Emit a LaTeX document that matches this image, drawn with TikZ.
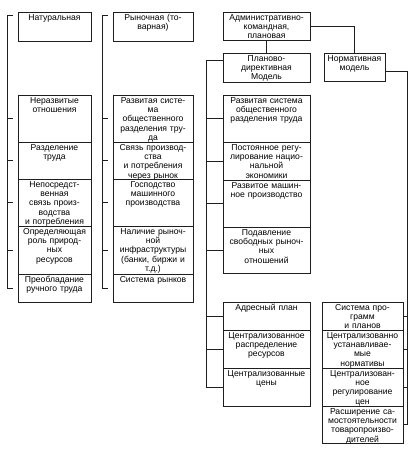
\documentclass[tikz,border=0pt]{standalone}
\usepackage{fontspec}
\setmainfont{Liberation Sans}
\usetikzlibrary{positioning}
\definecolor{inkline}{HTML}{1E1E1E}

\begin{document}
\begin{tikzpicture}[
    x=1pt, y=-1pt,
    cell/.style={rectangle, draw=inkline, line width=0.6pt, anchor=north west, outer sep=0pt, inner xsep=1pt, inner ysep=1.5pt, align=center, text height=6.5pt, font=\fontsize{8.6}{9.4}\selectfont},
    natcol/.style={cell, text width=71pt},
    ryncol/.style={cell, text width=78pt},
    plancol/.style={cell, text width=85pt},
    normcol/.style={cell, text width=79pt},
    normhead/.style={cell, text width=59pt},
    brk/.style={draw=inkline, line width=0.8pt},
    link/.style={draw=inkline, line width=0.8pt}
]
    \useasboundingbox (0,0) rectangle (415,455);

    % --- COLUMN 1: NATURAL ECONOMY ---
    \node[natcol, text depth=19.5pt] (nat) at (18,12) {Натуральная};
    \node[natcol, text depth=37.5pt] (c1a) at (18,95) {Неразвитые\\отношения};
    \node[natcol, text depth=27.5pt, below=0pt of c1a] (c1b) {Разделение\\труда};
    \node[natcol, text depth=37.5pt, below=0pt of c1b] (c1c) {Непосредст-\\венная\\связь произ-\\водства\\и потребления};
    \node[natcol, text depth=38.5pt, below=0pt of c1c] (c1d) {Определяющая\\роль природ-\\ных\\ресурсов};
    \node[natcol, text depth=18.5pt, below=0pt of c1d] (c1e) {Преобладание\\ручного труда};

    \draw[brk] ([xshift=-5pt, yshift=-3pt]nat.north west) -- ++(-6pt,0) coordinate (b1) |- ([xshift=-5pt]c1e.west);
    \foreach \n in {c1a,c1b,c1c,c1d}
        \draw[brk] (\n.west -| b1) -- ([xshift=-5pt]\n.west);

    % --- COLUMN 2: MARKET ECONOMY ---
    \node[ryncol, text depth=19.5pt] (ryn) at (113,12) {Рыночная (то-\\варная)};
    \node[ryncol, text depth=37.5pt] (c2a) at (113,95) {Развитая систе-\\ма\\общественного\\разделения тру-\\да};
    \node[ryncol, text depth=27.5pt, below=0pt of c2a] (c2b) {Связь производ-\\ства\\и потребления\\через рынок};
    \node[ryncol, text depth=37.5pt, below=0pt of c2b] (c2c) {Господство\\машинного\\производства};
    \node[ryncol, text depth=38.5pt, below=0pt of c2c] (c2d) {Наличие рыноч-\\ной\\инфраструктуры\\(банки, биржи и\\т.д.)};
    \node[ryncol, text depth=18.5pt, below=0pt of c2d] (c2e) {Система рынков};

    \draw[brk] ([xshift=-5pt, yshift=-3pt]ryn.north west) -- ++(-6pt,0) coordinate (b2) |- ([xshift=-5pt]c2e.west);
    \foreach \n in {c2a,c2b,c2c,c2d}
        \draw[brk] (\n.west -| b2) -- ([xshift=-5pt]\n.west);

    % --- COLUMN 3: COMMAND ECONOMY, PLAN-DIRECTIVE MODEL ---
    \node[plancol, text depth=18.5pt] (adm) at (223,12) {Административно-\\командная,\\плановая};
    \node[plancol, text depth=19.5pt] (plan) at (223,53) {Планово-\\директивная\\Модель};
    \node[plancol, text depth=37.5pt] (c3a) at (223,95) {Развитая система\\общественного\\разделения труда};
    \node[plancol, text depth=28.5pt, below=0pt of c3a] (c3b) {Постоянное регу-\\лирование нацио-\\нальной\\экономики};
    \node[plancol, text depth=37.5pt, below=0pt of c3b] (c3c) {Развитое машин-\\ное производство};
    \node[plancol, text depth=36.5pt, below=0pt of c3c] (c3d) {Подавление\\свободных рыноч-\\ных\\отношений};
    \node[plancol, text depth=18.5pt] (c3e) at (223,302) {Адресный план};
    \node[plancol, text depth=28.5pt, below=0pt of c3e] (c3f) {Централизованное\\распределение\\ресурсов};
    \node[plancol, text depth=28.5pt, below=0pt of c3f] (c3g) {Централизованные\\цены};

    \draw[link] (adm.south) -- (plan.north);
    \draw[brk] ([yshift=-7pt]plan.north west) -- ++(-17pt,0) coordinate (b3) |- (c3g.west);
    \foreach \n in {c3a,c3b,c3c,c3d,c3e,c3f}
        \draw[brk] (\n.west -| b3) -- (\n.west);

    % --- COLUMN 4: NORMATIVE MODEL ---
    \node[normhead, text depth=18.5pt] (norm) at (324,53) {Нормативная\\модель};
    \node[normcol, text depth=18.5pt] (c4a) at (322,302) {Система про-\\грамм\\и планов};
    \node[normcol, text depth=28.5pt, below=0pt of c4a] (c4b) {Централизованно\\устанавливае-\\мые\\нормативы};
    \node[normcol, text depth=28.5pt, below=0pt of c4b] (c4c) {Централизован-\\ное\\регулирование\\цен};
    \node[normcol, text depth=27.5pt, below=0pt of c4c] (c4d) {Расширение са-\\мостоятельности\\товаропроизво-\\дителей};

    \draw[link] (adm.east) -| (norm.north);
    \draw[brk] ([yshift=-4pt]norm.east) -| ([xshift=4pt]c4d.east) coordinate (b4) -- (c4d.east);
    \foreach \n in {c4a,c4b,c4c}
        \draw[brk] (\n.east) -- (\n.east -| b4);
\end{tikzpicture}
\end{document}
